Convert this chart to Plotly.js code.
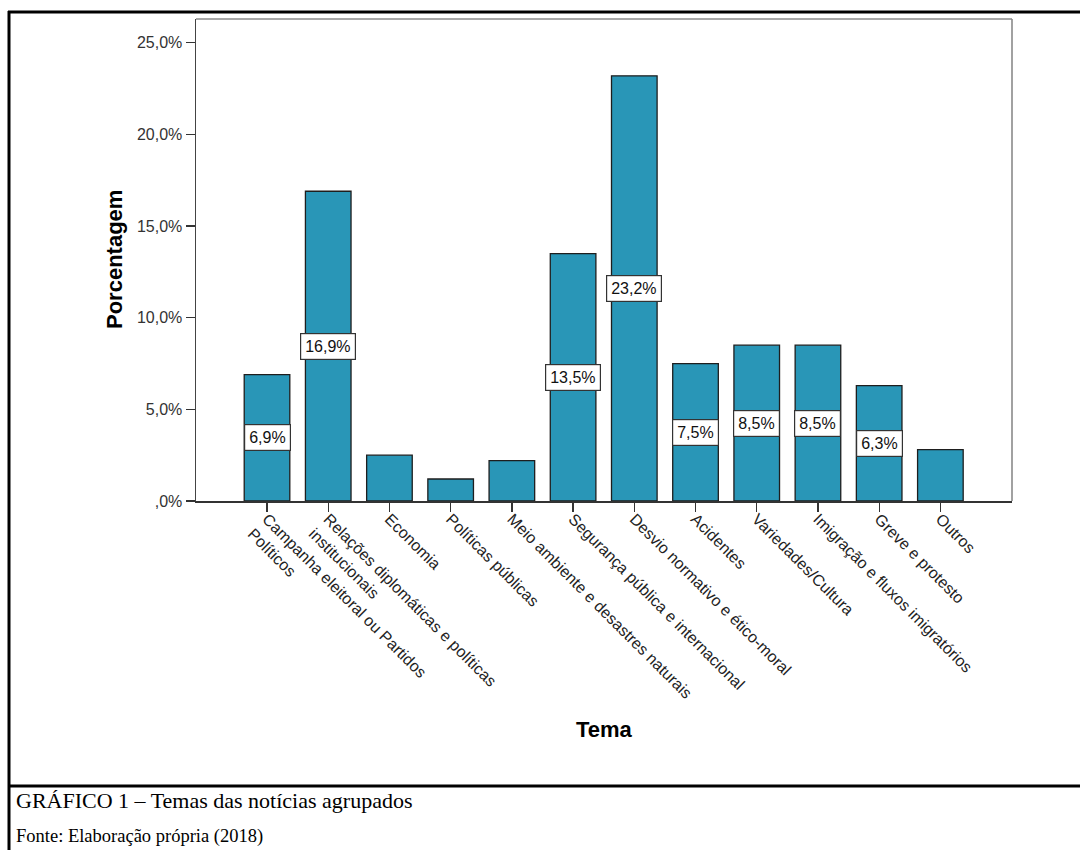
<!DOCTYPE html>
<html>
<head>
<meta charset="utf-8">
<script src="https://cdn.plot.ly/plotly-3.0.1.min.js"></script>
<style>
  html, body { margin: 0; padding: 0; background: #ffffff; }
  #chart { width: 1080px; height: 850px; }
</style>
</head>
<body>
<div id="chart"></div>
<script>
// Temas das notícias agrupados (percentual por tema)
const temas = [
  "Campanha eleitoral ou Partidos<br>Políticos",
  "Relações diplomáticas e políticas<br>institucionais",
  "Economia",
  "Políticas públicas",
  "Meio ambiente e desastres naturais",
  "Segurança pública e internacional",
  "Desvio normativo e ético-moral",
  "Acidentes",
  "Variedades/Cultura",
  "Imigração e fluxos imigratórios",
  "Greve e protesto",
  "Outros"
];
const porcentagens = [6.9, 16.9, 2.5, 1.2, 2.2, 13.5, 23.2, 7.5, 8.5, 8.5, 6.3, 2.8];
// only the larger bars carry a value label
const comRotulo = [true, true, false, false, false, true, true, true, true, true, true, false];

const yTicks = [0, 5, 10, 15, 20, 25];
const yTickText = [",0%", "5,0%", "10,0%", "15,0%", "20,0%", "25,0%"];

const fmt = v => v.toFixed(1).replace(".", ",") + "%";

// plot area in pixels (used to place page frame and captions in paper units)
const W = 1080, H = 850;
const M = { l: 196, r: 68, t: 19, b: 349 };
const PW = W - M.l - M.r, PH = H - M.t - M.b;
const px = x => (x - M.l) / PW;
const py = y => 1 - (y - M.t) / PH;

const idx = temas.map((_, i) => i);

const trace = {
  type: "bar",
  x: idx,
  y: porcentagens,
  width: 0.745,
  marker: {
    color: "rgb(41,150,183)",
    line: { color: "#1e1e1e", width: 1.3 }
  },
  hoverinfo: "skip"
};

const annotations = [];
porcentagens.forEach((v, i) => {
  if (!comRotulo[i]) return;
  annotations.push({
    x: i, y: v / 2, xref: "x", yref: "y",
    text: fmt(v), showarrow: false,
    font: { family: "Liberation Sans, Arial, sans-serif", size: 16, color: "#111" },
    bgcolor: "#ffffff", bordercolor: "#333333", borderwidth: 1.2, borderpad: 4
  });
});

// axis titles
annotations.push({
  xref: "paper", yref: "paper", x: px(114), y: 0.5,
  xanchor: "center", yanchor: "middle",
  text: "<b>Porcentagem</b>", textangle: -90, showarrow: false,
  font: { family: "Liberation Sans, Arial, sans-serif", size: 22, color: "#000" }
});
annotations.push({
  xref: "paper", yref: "paper", x: 0.5, y: py(729),
  xanchor: "center", yanchor: "middle",
  text: "<b>Tema</b>", showarrow: false,
  font: { family: "Liberation Sans, Arial, sans-serif", size: 22, color: "#000" }
});

// figure caption below the frame line
annotations.push({
  xref: "paper", yref: "paper", x: px(14), y: py(800),
  xanchor: "left", yanchor: "middle",
  text: "GRÁFICO 1 – Temas das notícias agrupados", showarrow: false,
  font: { family: "Liberation Serif, Times New Roman, serif", size: 22, color: "#000" }
});
annotations.push({
  xref: "paper", yref: "paper", x: px(14), y: py(836),
  xanchor: "left", yanchor: "middle",
  text: "Fonte: Elaboração própria (2018)", showarrow: false,
  font: { family: "Liberation Serif, Times New Roman, serif", size: 18.5, color: "#000" }
});

// page frame: left and top border, separator above caption
const frame = { color: "#000", width: 3 };
const shapes = [
  { type: "line", xref: "paper", yref: "paper", x0: px(9), x1: px(9), y0: py(11), y1: py(852), line: frame },
  { type: "line", xref: "paper", yref: "paper", x0: px(8), x1: px(1082), y0: py(12), y1: py(12), line: frame },
  { type: "line", xref: "paper", yref: "paper", x0: px(8), x1: px(1082), y0: py(786), y1: py(786), line: frame },
  // lighter top/right edges of the plot box
  { type: "line", xref: "paper", yref: "paper", x0: 0, x1: 1, y0: 1, y1: 1, line: { color: "#8a8a8a", width: 1.6 } },
  { type: "line", xref: "paper", yref: "paper", x0: 1, x1: 1, y0: 0, y1: 1, line: { color: "#8a8a8a", width: 1.6 } }
];

const layout = {
  width: W, height: H,
  margin: M,
  paper_bgcolor: "#ffffff",
  plot_bgcolor: "#ffffff",
  showlegend: false,
  font: { family: "Liberation Sans, Arial, sans-serif", color: "#222" },
  xaxis: {
    range: [-1.16, 12.17],
    tickmode: "array",
    tickvals: idx,
    ticktext: temas,
    tickangle: 45,
    ticks: "outside", ticklen: 9, tickwidth: 1.3, tickcolor: "#333",
    ticklabelstandoff: -8,
    tickfont: { size: 16, color: "#222" },
    showline: true, linecolor: "#333", linewidth: 1.5,
    showgrid: false, zeroline: false, fixedrange: true
  },
  yaxis: {
    range: [0, 26.3],
    tickmode: "array",
    tickvals: yTicks,
    ticktext: yTickText,
    ticks: "outside", ticklen: 9, tickwidth: 1.3, tickcolor: "#333",
    tickfont: { size: 16, color: "#333" },
    showline: true, linecolor: "#444", linewidth: 1.5,
    showgrid: false, zeroline: false, fixedrange: true
  },
  annotations: annotations,
  shapes: shapes
};

Plotly.newPlot("chart", [trace], layout, { displayModeBar: false, staticPlot: true });
</script>
</body>
</html>
